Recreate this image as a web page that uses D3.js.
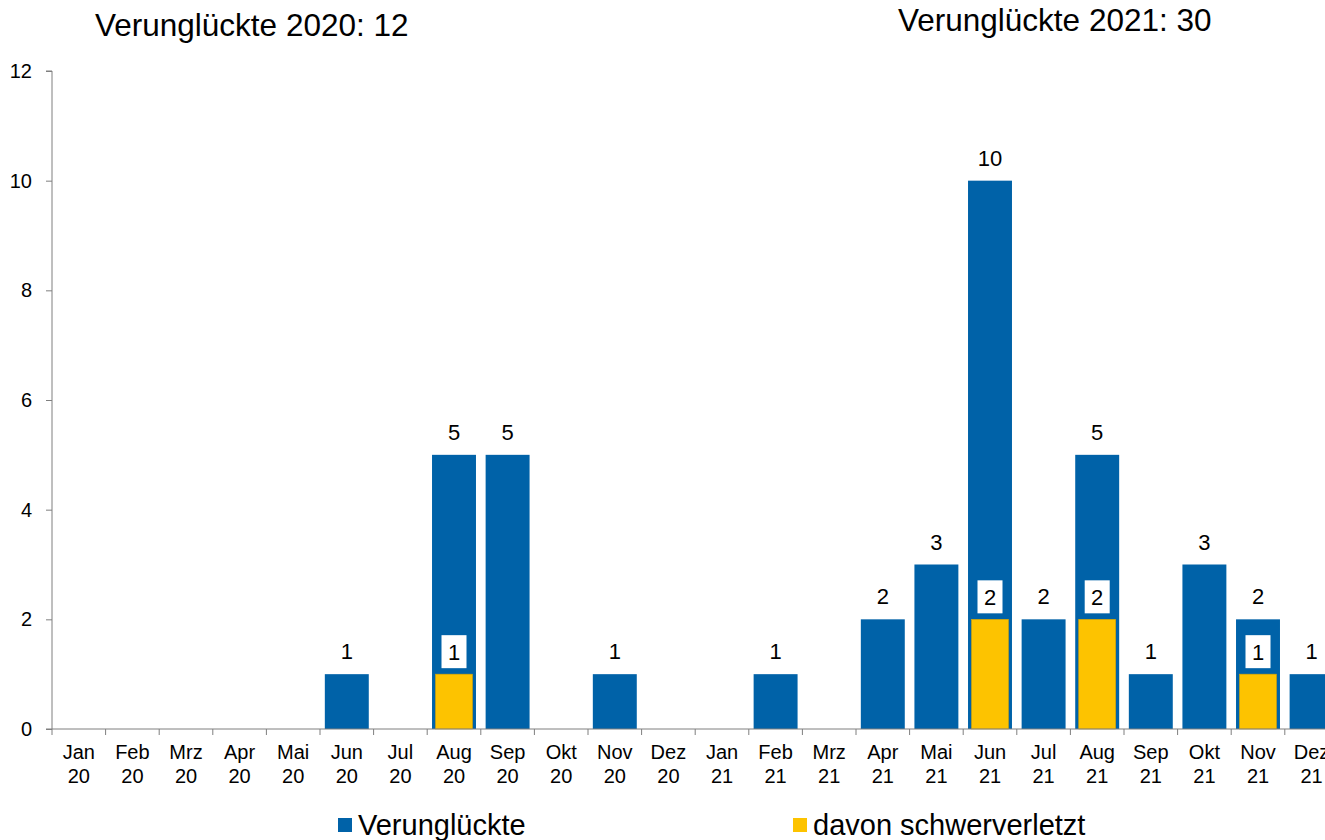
<!DOCTYPE html>
<html>
<head>
<meta charset="utf-8">
<script src="https://cdn.jsdelivr.net/npm/d3@7"></script>
<style>
  body { margin: 0; background: #fff; }
  svg { font-family: "Liberation Sans", Arial, sans-serif; }
</style>
</head>
<body>
<svg id="chart" width="1325" height="840"></svg>
<script>
// data
var months = ['Jan', 'Feb', 'Mrz', 'Apr', 'Mai', 'Jun', 'Jul', 'Aug', 'Sep', 'Okt', 'Nov', 'Dez',
              'Jan', 'Feb', 'Mrz', 'Apr', 'Mai', 'Jun', 'Jul', 'Aug', 'Sep', 'Okt', 'Nov', 'Dez'];
var years = ['20', '20', '20', '20', '20', '20', '20', '20', '20', '20', '20', '20',
             '21', '21', '21', '21', '21', '21', '21', '21', '21', '21', '21', '21'];
var verunglueckte = [0, 0, 0, 0, 0, 1, 0, 5, 5, 0, 1, 0,
                     0, 1, 0, 2, 3, 10, 2, 5, 1, 3, 2, 1];
var schwerverletzt = [0, 0, 0, 0, 0, 0, 0, 1, 0, 0, 0, 0,
                      0, 0, 0, 0, 0, 2, 0, 2, 0, 0, 1, 0];
var yTicks = [0, 2, 4, 6, 8, 10, 12];
var titles = ['Verunglückte 2020: 12', 'Verunglückte 2021: 30'];
var legendLabels = ['Verunglückte', 'davon schwerverletzt'];

var blue = '#0062a8', yellow = '#fdc300', axisColor = '#7f7f7f';

var svg = d3.select('#chart');
var marginLeft = 52, plotTop = 71, plotBottom = 729;
var bandW = 53.6;

var keys = d3.range(months.length);
var x = d3.scaleBand().domain(keys)
  .range([marginLeft, marginLeft + bandW * keys.length])
  .paddingInner(0.18).paddingOuter(0.09);
var y = d3.scaleLinear().domain([0, 12]).range([plotBottom, plotTop]);

var rows = keys.map(function (i) {
  return { i: i, v: verunglueckte[i], s: schwerverletzt[i] };
});

// blue bars
svg.append('g').selectAll('rect')
  .data(rows)
  .enter().append('rect')
  .attr('x', function (d) { return x(d.i); })
  .attr('width', x.bandwidth())
  .attr('y', function (d) { return y(d.v); })
  .attr('height', function (d) { return y(0) - y(d.v); })
  .attr('fill', blue);

// value labels over blue bars
svg.append('g').selectAll('text')
  .data(rows.filter(function (d) { return d.v > 0; }))
  .enter().append('text')
  .attr('x', function (d) { return x(d.i) + x.bandwidth() / 2; })
  .attr('y', function (d) { return y(d.v) - 15; })
  .attr('text-anchor', 'middle')
  .attr('font-size', 22)
  .text(function (d) { return d.v; });

// yellow bars (narrower, overlapping) with boxed labels
var inset = 3.5;
var sv = svg.append('g').selectAll('g')
  .data(rows.filter(function (d) { return d.s > 0; }))
  .enter().append('g');
sv.append('rect')
  .attr('x', function (d) { return x(d.i) + inset; })
  .attr('width', x.bandwidth() - 2 * inset)
  .attr('y', function (d) { return y(d.s); })
  .attr('height', function (d) { return y(0) - y(d.s); })
  .attr('fill', yellow)
  .attr('stroke', '#d9a400')
  .attr('stroke-width', 0.6);
sv.append('rect')
  .attr('x', function (d) { return x(d.i) + x.bandwidth() / 2 - 12.5; })
  .attr('y', function (d) { return y(d.s) - 39; })
  .attr('width', 25)
  .attr('height', 33)
  .attr('fill', '#fff');
sv.append('text')
  .attr('x', function (d) { return x(d.i) + x.bandwidth() / 2; })
  .attr('y', function (d) { return y(d.s) - 14; })
  .attr('text-anchor', 'middle')
  .attr('font-size', 22)
  .text(function (d) { return d.s; });

// y axis
var yAxis = svg.append('g')
  .attr('transform', 'translate(' + marginLeft + ',0)')
  .call(d3.axisLeft(y).tickValues(yTicks).tickSize(6).tickPadding(14));
yAxis.select('.domain').attr('stroke', axisColor)
  .attr('d', 'M-6,' + plotTop + 'H0V' + plotBottom + 'H-6');
yAxis.selectAll('.tick line').attr('stroke', axisColor);
yAxis.selectAll('.tick text').attr('font-size', 20).attr('fill', '#000')
  .attr('font-family', '"Liberation Sans", Arial, sans-serif');

// x axis
var xAxis = svg.append('g').attr('transform', 'translate(0,' + plotBottom + ')');
xAxis.append('line')
  .attr('x1', marginLeft).attr('x2', marginLeft + bandW * keys.length)
  .attr('stroke', axisColor);
xAxis.selectAll('line.tk')
  .data(d3.range(keys.length + 1))
  .enter().append('line')
  .attr('class', 'tk')
  .attr('x1', function (i) { return marginLeft + i * bandW; })
  .attr('x2', function (i) { return marginLeft + i * bandW; })
  .attr('y1', 0).attr('y2', 6)
  .attr('stroke', axisColor);
var xl = xAxis.selectAll('text.xl')
  .data(keys)
  .enter().append('text')
  .attr('class', 'xl')
  .attr('text-anchor', 'middle')
  .attr('font-size', 20);
xl.append('tspan')
  .attr('x', function (i) { return x(i) + x.bandwidth() / 2; })
  .attr('y', 30).text(function (i) { return months[i]; });
xl.append('tspan')
  .attr('x', function (i) { return x(i) + x.bandwidth() / 2; })
  .attr('y', 54).text(function (i) { return years[i]; });

// titles
svg.append('text').attr('x', 95).attr('y', 36).attr('font-size', 31.5).text(titles[0]);
svg.append('text').attr('x', 898).attr('y', 31).attr('font-size', 31.5).text(titles[1]);

// legend
var legendPos = [[338, blue], [793, yellow]];
var legend = svg.append('g').selectAll('g')
  .data(legendPos)
  .enter().append('g');
legend.append('rect')
  .attr('x', function (d) { return d[0]; })
  .attr('y', 818).attr('width', 14).attr('height', 14)
  .attr('fill', function (d) { return d[1]; });
legend.append('text')
  .attr('x', function (d) { return d[0] + 20; })
  .attr('y', 835).attr('font-size', 29)
  .text(function (d, i) { return legendLabels[i]; });
</script>
</body>
</html>
